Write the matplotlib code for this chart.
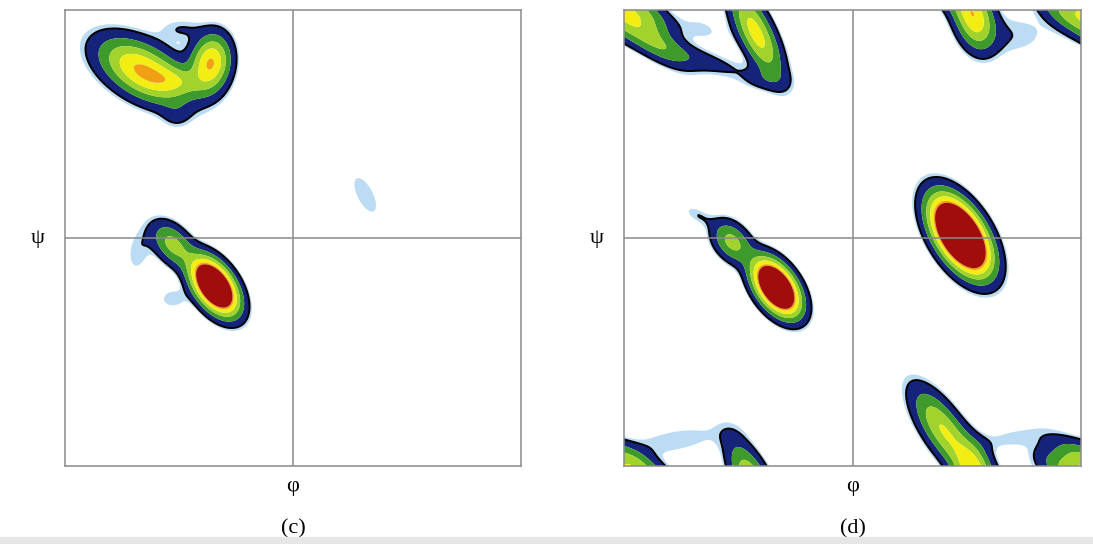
import numpy as np
import matplotlib.pyplot as plt
from matplotlib.patches import Rectangle

# density blobs (degrees):
# centre phi, centre psi, spread along, spread across, tilt of long axis, peak height
c_phi = [-119, -65, -92, -62, -95, -122, -95, 57, -88, -92, -108]
c_psi = [132, 138, 124, -38, -5, -10, -48, 34, 165, 98, 130]
c_along = [23, 14, 14, 15, 13, 14, 8, 17, 12, 8, 34]
c_across = [12, 9.5, 7, 8.5, 8, 7, 6, 7, 6, 8, 19]
c_tilt = [-30, 80, -10, -55, -50, 80, 0, -63, 0, 0, -20]
c_peak = [0.6, 0.63, 0.2, 1.6, 0.35, 0.065, 0.065, 0.065, 0.065, 0.065, 0.05]

d_phi = [-60, -95, -122, 85, -165, -76, -128, 72, 96, 170, -170, 125, 125, -140, -70, -118]
d_psi = [-39, -3, 18, 2, 165, 162, 143, -152, -186, 175, -178, 160, -158, -160, 125, 165]
d_along = [15, 12, 9, 20, 26, 24, 36, 24, 16, 18, 20, 22, 20, 30, 12, 15]
d_across = [8.5, 8, 4, 10.4, 8, 8, 6, 9, 9, 7, 7, 12, 6, 8, 6, 8]
d_tilt = [-55, -50, -30, -58, -40, -64, -17, -56, -75, -30, -30, 0, 10, 10, 0, -20]
d_peak = [1.6, 0.35, 0.065, 2.0, 0.3, 0.52, 0.11, 0.46, 0.5, 0.25, 0.25, 0.065, 0.055, 0.065, 0.065, 0.05]

levels = [0.045, 0.07, 0.17, 0.3, 0.45, 0.62, 0.7, 100]
colors = ['#bcdcf3', '#15237a', '#3f9a2c', '#a2d22c', '#f2ee14', '#f0a012', '#a10c0c']

grid = np.linspace(-180, 180, 361)
PHI, PSI = np.meshgrid(grid, grid)


def density(phis, psis, along, across, tilt, peak):
    z = np.zeros_like(PHI)
    for p0, s0, a, b, t, h in zip(phis, psis, along, across, tilt, peak):
        ct, st = np.cos(np.radians(t)), np.sin(np.radians(t))
        for dx in (-360, 0, 360):
            for dy in (-360, 0, 360):
                x = PHI - p0 - dx
                y = PSI - s0 - dy
                u = x * ct + y * st
                v = -x * st + y * ct
                z += h * np.exp(-0.5 * ((u / a) ** 2 + (v / b) ** 2))
    return z


fig = plt.figure(figsize=(10.93, 5.44), dpi=100)
serif = ['Liberation Serif', 'DejaVu Serif']

panels = [
    ([65 / 1093, 78 / 544, 456 / 1093, 456 / 544], density(c_phi, c_psi, c_along, c_across, c_tilt, c_peak), '(c)'),
    ([624 / 1093, 78 / 544, 457 / 1093, 456 / 544], density(d_phi, d_psi, d_along, d_across, d_tilt, d_peak), '(d)'),
]

for rect, z, tag in panels:
    ax = fig.add_axes(rect)
    ax.contourf(PHI, PSI, z, levels=levels, colors=colors, antialiased=True)
    ax.contour(PHI, PSI, z, levels=[0.07], colors='black', linewidths=1.4)
    ax.axhline(0, color='#8a8a8a', lw=1.1, zorder=5)
    ax.axvline(0, color='#8a8a8a', lw=1.1, zorder=5)
    ax.set_xlim(-180, 180)
    ax.set_ylim(-180, 180)
    ax.set_xticks([])
    ax.set_yticks([])
    for s in ax.spines.values():
        s.set_color('#8a8a8a')
        s.set_linewidth(1.1)
    ax.text(-0.06, 0.5, 'ψ', transform=ax.transAxes, ha='center', va='center',
            fontsize=16, family=serif)
    ax.text(0.5, -0.045, 'φ', transform=ax.transAxes, ha='center', va='center',
            fontsize=16, family=serif)
    ax.text(0.5, -0.138, tag, transform=ax.transAxes, ha='center', va='center',
            fontsize=16, family=serif)

fig.patches.append(Rectangle((0, 0), 1, 7 / 544, transform=fig.transFigure,
                             color='#e6e6e6', zorder=0))

fig.savefig('out.png', dpi=100)
